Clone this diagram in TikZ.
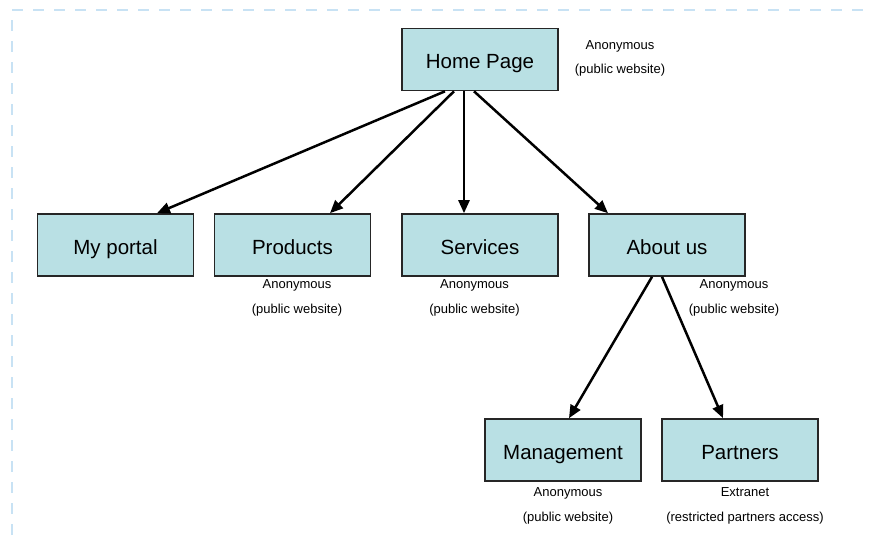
\documentclass[tikz,border=0pt]{standalone}
\usepackage{fontspec}
\setmainfont{Liberation Sans}
\usetikzlibrary{arrows.meta,positioning,calc}
\definecolor{boxfill}{RGB}{185,224,228}
\definecolor{framecol}{RGB}{200,226,244}
\tikzstyle{page}=[draw=black!85,line width=1.6pt,fill=boxfill,minimum width=156pt,minimum height=62pt,inner sep=0pt,text height=18pt,text depth=0pt,font=\fontsize{20.5}{24}\selectfont]
\tikzstyle{note}=[align=center,inner sep=0pt,font=\fontsize{13}{24.5}\selectfont]
\tikzstyle{link}=[line width=2.5pt,-{Triangle[length=13pt,width=11pt]}]

\begin{document}
\begin{tikzpicture}[x=1pt,y=-1pt]
  \useasboundingbox (0,0) rectangle (872,540);
  % slide frame
  \draw [framecol,line width=1.5pt,dash pattern=on 11pt off 10pt,dash phase=-5pt] (12,540) -- (12,10) -- (872,10);

  \node [page] (home) at (480,59.5) {Home Page};
  \node [page] (portal) at (115.5,245) {My portal};
  \node [page] (products) at (292.5,245) {Products};
  \node [page] (services) at (480,245) {Services};
  \node [page] (about) at (667,245) {About us};
  \node [page] (management) at (563,450) {Management};
  \node [page] (partners) at (740,450) {Partners};

  \node [note] (homenote) at (620,58.5) {Anonymous\\(public website)};
  \node [note] (productsnote) at (297,298) {Anonymous\\(public website)};
  \node [note] (servicesnote) at (474.5,298) {Anonymous\\(public website)};
  \node [note] (aboutnote) at (734,298) {Anonymous\\(public website)};
  \node [note] (managementnote) at (568,506) {Anonymous\\(public website)};
  \node [note] (partnersnote) at (745,506) {Extranet\\(restricted partners access)};

  \draw [link] ([xshift=-35pt]home.south) -- ([xshift=41.5pt]portal.north);
  \draw [link] ([xshift=-26pt]home.south) -- ([xshift=37.5pt]products.north);
  \draw [link] ([xshift=-16pt]home.south) -- ([xshift=-16pt]services.north);
  \draw [link] ([xshift=-6pt]home.south) -- ([xshift=-59pt]about.north);
  \draw [link] ([xshift=-15pt]about.south) -- ([xshift=6pt]management.north);
  \draw [link] ([xshift=-5pt]about.south) -- ([xshift=-17pt]partners.north);
\end{tikzpicture}
\end{document}
